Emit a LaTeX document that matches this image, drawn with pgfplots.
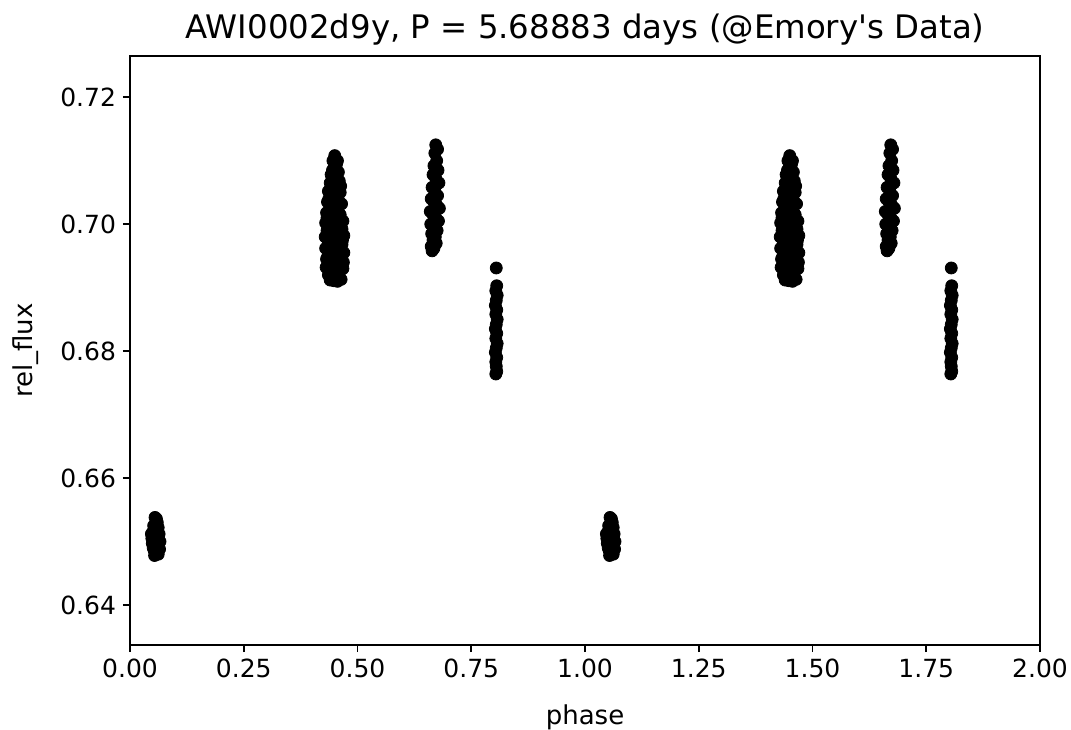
\documentclass[border=0pt]{standalone}
\usepackage{pgfplots}
\pgfplotsset{compat=1.18}
\usepackage{pgfplotstable}
\usepackage{fontspec}
\setmainfont{DejaVu Sans}

\pgfplotstableread{
x y
0.055 0.6538
0.058 0.6536
0.060 0.6530
0.052 0.6525
0.062 0.6522
0.056 0.6520
0.050 0.6515
0.064 0.6512
0.058 0.6510
0.048 0.6505
0.054 0.6505
0.063 0.6503
0.066 0.6500
0.049 0.6497
0.057 0.6495
0.061 0.6492
0.051 0.6490
0.065 0.6488
0.053 0.6486
0.059 0.6483
0.056 0.6480
0.062 0.6480
0.054 0.6478
0.047 0.6512
0.060 0.6515
0.450 0.7108
0.446 0.7100
0.454 0.7095
0.448 0.7088
0.458 0.7082
0.442 0.7078
0.452 0.7075
0.460 0.7068
0.440 0.7065
0.447 0.7060
0.455 0.7058
0.436 0.7052
0.462 0.7050
0.444 0.7045
0.451 0.7042
0.458 0.7038
0.434 0.7035
0.465 0.7032
0.440 0.7028
0.448 0.7025
0.456 0.7022
0.432 0.7018
0.462 0.7015
0.444 0.7012
0.452 0.7010
0.468 0.7005
0.430 0.7002
0.438 0.7000
0.458 0.6998
0.446 0.6995
0.466 0.6992
0.433 0.6990
0.454 0.6988
0.441 0.6985
0.470 0.6982
0.429 0.6980
0.460 0.6978
0.448 0.6975
0.436 0.6970
0.466 0.6968
0.452 0.6965
0.430 0.6962
0.443 0.6958
0.470 0.6955
0.458 0.6952
0.434 0.6948
0.449 0.6945
0.464 0.6942
0.439 0.6938
0.455 0.6935
0.431 0.6932
0.468 0.6930
0.446 0.6927
0.460 0.6924
0.436 0.6920
0.452 0.6918
0.442 0.6915
0.464 0.6913
0.448 0.6911
0.456 0.6910
0.440 0.6912
0.437 0.7040
0.463 0.7060
0.433 0.7010
0.467 0.6975
0.432 0.6945
0.469 0.6940
0.445 0.7085
0.456 0.7100
0.672 0.7125
0.676 0.7118
0.670 0.7112
0.674 0.7100
0.668 0.7092
0.677 0.7085
0.666 0.7078
0.672 0.7072
0.679 0.7065
0.664 0.7058
0.670 0.7052
0.676 0.7045
0.662 0.7040
0.668 0.7035
0.674 0.7030
0.680 0.7025
0.660 0.7020
0.666 0.7015
0.672 0.7010
0.678 0.7005
0.661 0.7000
0.669 0.6995
0.675 0.6990
0.663 0.6985
0.671 0.6980
0.666 0.6975
0.673 0.6970
0.662 0.6965
0.668 0.6962
0.664 0.6958
0.805 0.6931
0.806 0.6903
0.804 0.6895
0.807 0.6888
0.805 0.6880
0.803 0.6872
0.806 0.6865
0.804 0.6858
0.807 0.6850
0.805 0.6842
0.803 0.6835
0.806 0.6828
0.804 0.6820
0.807 0.6812
0.805 0.6805
0.803 0.6798
0.806 0.6790
0.804 0.6783
0.805 0.6776
0.806 0.6768
0.804 0.6764
}\datatable

\begin{document}
\begin{tikzpicture}
\useasboundingbox (-65pt,-42pt) rectangle (470.5pt,322.5pt);
\begin{axis}[
  scale only axis,
  width=455pt, height=294.5pt,
  xmin=0, xmax=2, ymin=0.6337, ymax=0.7265,
  xtick={0,0.25,0.5,0.75,1,1.25,1.5,1.75,2},
  ytick={0.64,0.66,0.68,0.70,0.72},
  scaled y ticks=false,
  scaled x ticks=false,
  xticklabel style={/pgf/number format/.cd,fixed,fixed zerofill,precision=2},
  yticklabel style={/pgf/number format/.cd,fixed,fixed zerofill,precision=2},
  /pgf/number format/assume math mode=true,
  tick label style={font=\fontsize{12.5}{15}\selectfont},
  tick align=outside,
  major tick length=3.5pt,
  tick style={black, line width=0.8pt},
  axis line style={line width=0.8pt},
  xtick pos=bottom, ytick pos=left,
  every axis title shift=0pt,
  title={AWI0002d9y, P = 5.68883 days (@Emory\textquotesingle s Data)},
  title style={font=\fontsize{16.2}{19}\selectfont, at={(axis description cs:0.5,1)}, anchor=base, yshift=8.5pt},
  xlabel={phase},
  xlabel style={font=\fontsize{13}{15}\selectfont, at={(axis description cs:0.5,0)}, anchor=base, yshift=-39.5pt},
  ylabel={rel\_flux},
  ylabel style={font=\fontsize{13}{15}\selectfont, at={([xshift=-48.5pt]axis description cs:0,0.5)}, anchor=base, rotate=0},
  clip=true,
]
\addplot[only marks, mark=*, mark size=3pt, black] table[x=x,y=y] {\datatable};
\addplot[only marks, mark=*, mark size=3pt, black] table[x expr=\thisrow{x}+1,y=y] {\datatable};
\end{axis}
\end{tikzpicture}
\end{document}
